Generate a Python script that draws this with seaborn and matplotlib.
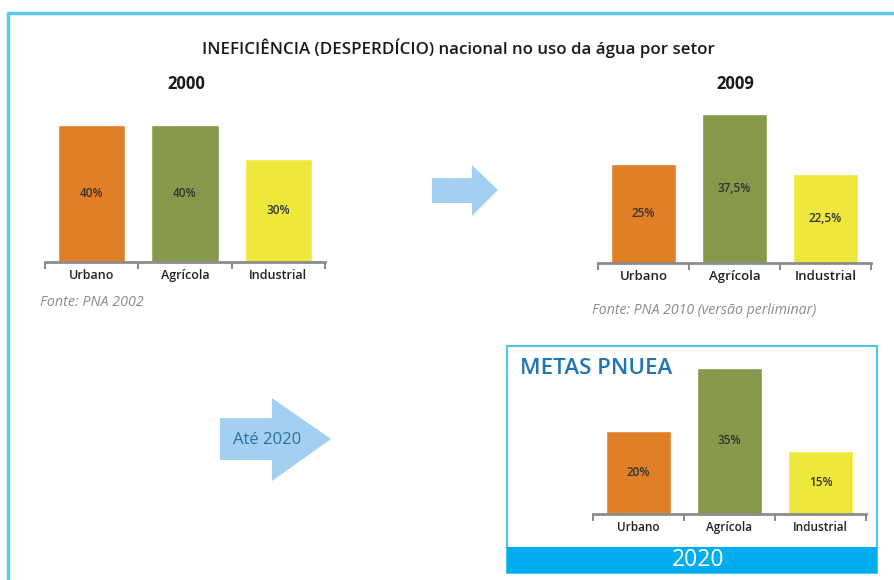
import numpy as np
import pandas as pd
import matplotlib.pyplot as plt
from matplotlib.patches import Polygon, Rectangle
from matplotlib.lines import Line2D
import seaborn as sns

sns.set_style('white')
plt.rcParams['font.family'] = ['Open Sans', 'DejaVu Sans']

setores = ['Urbano', 'Agrícola', 'Industrial']
valores_2000 = [40, 40, 30]
valores_2009 = [25, 37.5, 22.5]
valores_2020 = [20, 35, 15]
rotulos_2000 = ['40%', '40%', '30%']
rotulos_2009 = ['25%', '37,5%', '22,5%']
rotulos_2020 = ['20%', '35%', '15%']

cores = ['#E07F26', '#86994B', '#EFE83C']
W, H = 894, 580

fig = plt.figure(figsize=(W / 100, H / 100), dpi=100)


def box(x0, y0, x1, y1):
    # pixel box (top-left origin) -> figure fraction [l, b, w, h]
    return [x0 / W, 1 - y1 / H, (x1 - x0) / W, (y1 - y0) / H]


def fx(x):
    return x / W


def fy(y):
    return 1 - y / H


def painel(rect, valores, rotulos, fsize):
    ax = fig.add_axes(rect)
    df = pd.DataFrame({'setor': setores, 'valor': valores})
    sns.barplot(data=df, x='setor', y='valor', hue='setor', palette=cores,
                legend=False, width=0.72, saturation=1, ax=ax)
    ax.set_xlim(-0.5, 2.5)
    ax.set_ylim(0, max(valores))
    for i, (v, r) in enumerate(zip(valores, rotulos)):
        ax.text(i, v / 2, r, ha='center', va='center', fontsize=8.5,
                color='#333333', fontweight='semibold')
    for s in ['top', 'left', 'right']:
        ax.spines[s].set_visible(False)
    ax.spines['bottom'].set_color('#8C8C8C')
    ax.spines['bottom'].set_linewidth(2)
    ax.set_yticks([])
    ax.set_xlabel('')
    ax.set_ylabel('')
    ax.set_xticks([0, 1, 2])
    ax.set_xticklabels(setores, fontsize=fsize, fontweight='semibold', color='#222222')
    ax.tick_params(axis='x', which='major', length=0, pad=5)
    ax.set_xticks([-0.5, 0.5, 1.5, 2.5], minor=True)
    ax.tick_params(axis='x', which='minor', bottom=True, length=5, width=1.5,
                   color='#8C8C8C', direction='out')
    ax.patch.set_alpha(0)
    return ax


# outer frame
fig.add_artist(Line2D([fx(8), fx(894)], [fy(13), fy(13)], color='#5BC8F2', lw=2.5))
fig.add_artist(Line2D([fx(8), fx(8)], [fy(13), fy(580)], color='#5BC8F2', lw=2.5))

fig.text(fx(458), fy(48), 'INEFICIÊNCIA (DESPERDÍCIO) nacional no uso da água por setor',
         ha='center', va='center', fontsize=12.2, fontweight='semibold', color='#1a1a1a')

# 2000
painel(box(45, 125, 325, 262), valores_2000, rotulos_2000, 9)
fig.text(fx(186), fy(84), '2000', ha='center', va='center', fontsize=12,
         fontweight='bold', color='#1a1a1a')
fig.text(fx(40), fy(302), 'Fonte: PNA 2002', ha='left', va='center', fontsize=10.3,
         style='italic', color='#8a8a8a')

# 2009
painel(box(598, 114, 871, 263), valores_2009, rotulos_2009, 9.5)
fig.text(fx(735), fy(84), '2009', ha='center', va='center', fontsize=12,
         fontweight='bold', color='#1a1a1a')
fig.text(fx(592), fy(310), 'Fonte: PNA 2010 (versão perliminar)', ha='left', va='center',
         fontsize=10.2, style='italic', color='#8a8a8a')

# arrows
seta1 = [(432, 178), (472, 178), (472, 165), (498, 190), (472, 216), (472, 203), (432, 203)]
fig.add_artist(Polygon([(fx(x), fy(y)) for x, y in seta1], closed=True,
                       facecolor='#A3D0F0', edgecolor='none'))
seta2 = [(220, 418), (272, 418), (272, 398), (331, 439), (272, 481), (272, 460), (220, 460)]
fig.add_artist(Polygon([(fx(x), fy(y)) for x, y in seta2], closed=True,
                       facecolor='#A3D0F0', edgecolor='none'))
fig.text(fx(267), fy(440), 'Até 2020', ha='center', va='center', fontsize=12,
         color='#2C6FA6')

# 2020 box
fig.add_artist(Rectangle((fx(507), fy(573)), (877 - 507) / W, (573 - 346) / H,
                         transform=fig.transFigure, facecolor='white',
                         edgecolor='#4FC3F0', lw=1.5, zorder=0))
fig.add_artist(Rectangle((fx(507), fy(573)), (877 - 507) / W, (573 - 547) / H,
                         transform=fig.transFigure, facecolor='#00AEEF',
                         edgecolor='none'))
fig.text(fx(698), fy(560), '2020', ha='center', va='center', fontsize=16.5, color='white')
fig.text(fx(520), fy(369), 'METAS PNUEA', ha='left', va='center', fontsize=16,
         fontweight='semibold', color='#1F75B8')
painel(box(593, 368, 866, 514), valores_2020, rotulos_2020, 8.5)

fig.savefig('out.png', dpi=100)
